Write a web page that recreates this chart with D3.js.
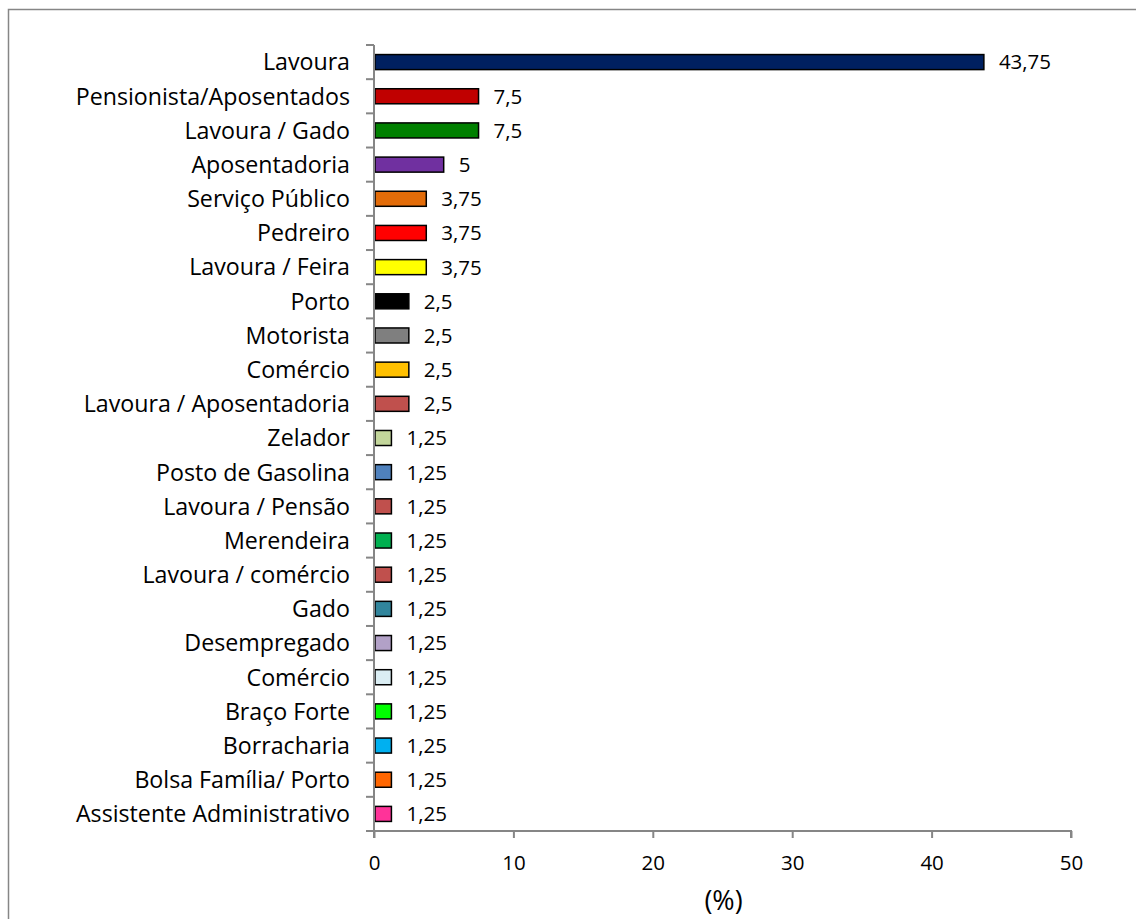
<!DOCTYPE html>
<html>
<head>
<meta charset="utf-8">
<script src="https://cdn.jsdelivr.net/npm/d3@7"></script>
<style>
  html, body { margin: 0; padding: 0; background: #fff; }
  svg { display: block; }
  text { font-family: "Open Sans", Lato, sans-serif; fill: #000; }
</style>
</head>
<body>
<svg id="chart" width="1136" height="919"></svg>
<script>
// Occupations (top to bottom) and their share in %
const categories = [
  "Lavoura", "Pensionista/Aposentados", "Lavoura / Gado", "Aposentadoria",
  "Serviço Público", "Pedreiro", "Lavoura / Feira", "Porto", "Motorista",
  "Comércio", "Lavoura / Aposentadoria", "Zelador", "Posto de Gasolina",
  "Lavoura / Pensão", "Merendeira", "Lavoura / comércio", "Gado",
  "Desempregado", "Comércio", "Braço Forte", "Borracharia",
  "Bolsa Família/ Porto", "Assistente Administrativo"
];
const values = [
  43.75, 7.5, 7.5, 5, 3.75, 3.75, 3.75, 2.5, 2.5, 2.5, 2.5,
  1.25, 1.25, 1.25, 1.25, 1.25, 1.25, 1.25, 1.25, 1.25, 1.25, 1.25, 1.25
];
const valueLabels = [
  "43,75", "7,5", "7,5", "5", "3,75", "3,75", "3,75", "2,5", "2,5", "2,5", "2,5",
  "1,25", "1,25", "1,25", "1,25", "1,25", "1,25", "1,25", "1,25", "1,25", "1,25", "1,25", "1,25"
];
const barColors = [
  "#002060", "#C00000", "#008000", "#7030A0", "#E36C09", "#FF0000", "#FFFF00",
  "#000000", "#7F7F7F", "#FFC000", "#C0504D", "#C3D69B", "#4F81BD", "#C0504D",
  "#00B050", "#C0504D", "#31859C", "#B2A1C7", "#DBEEF4", "#00FF00", "#00B0F0",
  "#FF6600", "#FF3399"
];
const xTicks = [0, 10, 20, 30, 40, 50];
const xTitle = "(%)";

const svg = d3.select("#chart");
const axisColor = "#868686";

// Outer chart frame
svg.append("rect")
  .attr("x", 8.5).attr("y", 9.5)
  .attr("width", 1140).attr("height", 930)
  .attr("fill", "none").attr("stroke", axisColor).attr("stroke-width", 1.5);

const plot = { left: 374, right: 1071, top: 45, bottom: 831 };

const x = d3.scaleLinear().domain([0, 50]).range([plot.left, plot.right]);
const gap = 0.56;
const y = d3.scaleBand()
  .domain(d3.range(categories.length))
  .range([plot.top, plot.bottom])
  .paddingInner(gap).paddingOuter(gap / 2);

// Bars
svg.append("g").selectAll("rect")
  .data(values)
  .join("rect")
  .attr("x", x(0) + 1)
  .attr("y", (d, i) => y(i))
  .attr("width", d => x(d) - x(0) - 1)
  .attr("height", y.bandwidth())
  .attr("fill", (d, i) => barColors[i])
  .attr("stroke", "#000")
  .attr("stroke-width", 1.5);

// Value labels
svg.append("g").selectAll("text")
  .data(values)
  .join("text")
  .attr("x", d => x(d) + 15)
  .attr("y", (d, i) => y(i) + y.bandwidth() / 2)
  .attr("dy", "0.36em")
  .attr("font-size", 20.5)
  .text((d, i) => valueLabels[i]);

// Category axis
const yStep = y.step();
const catAxis = svg.append("g");
catAxis.append("line")
  .attr("x1", plot.left).attr("x2", plot.left)
  .attr("y1", plot.top).attr("y2", plot.bottom + 7)
  .attr("stroke", axisColor).attr("stroke-width", 2);
catAxis.selectAll("line.tick")
  .data(d3.range(categories.length + 1))
  .join("line")
  .attr("class", "tick")
  .attr("x1", plot.left - 8).attr("x2", plot.left)
  .attr("y1", i => plot.top + i * yStep)
  .attr("y2", i => plot.top + i * yStep)
  .attr("stroke", axisColor).attr("stroke-width", 2);
catAxis.selectAll("text")
  .data(categories)
  .join("text")
  .attr("x", plot.left - 24)
  .attr("y", (d, i) => y(i) + y.bandwidth() / 2)
  .attr("dy", "0.36em")
  .attr("text-anchor", "end")
  .attr("font-size", 23.2)
  .text(d => d);

// Value axis
const xAxis = svg.append("g")
  .attr("transform", `translate(0,${plot.bottom})`)
  .call(d3.axisBottom(x).tickValues(xTicks).tickSize(7).tickPadding(17).tickFormat(d3.format("d")));
xAxis.select(".domain").attr("stroke", axisColor).attr("stroke-width", 2)
  .attr("d", `M${plot.left - 8},0H${plot.right}V7`);
xAxis.selectAll(".tick line").attr("stroke", axisColor).attr("stroke-width", 2);
xAxis.selectAll(".tick text")
  .attr("font-size", 20.5)
  .attr("font-family", "'Open Sans', Lato, sans-serif")
  .attr("fill", "#000");

svg.append("text")
  .attr("x", x(25) + 1)
  .attr("y", 910)
  .attr("text-anchor", "middle")
  .attr("font-size", 27)
  .text(xTitle);
</script>
</body>
</html>
